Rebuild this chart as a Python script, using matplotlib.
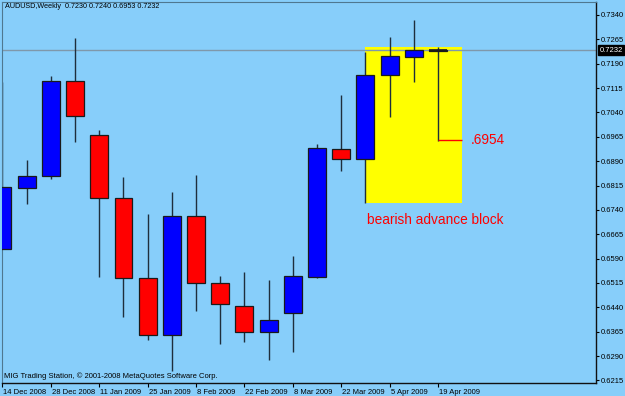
import matplotlib
matplotlib.use("Agg")
import numpy as np
import matplotlib.pyplot as plt
from matplotlib import transforms

plt.rcParams['font.family'] = ['Liberation Sans', 'DejaVu Sans']

# weekly AUDUSD candles, 14 Dec 2008 .. 19 Apr 2009
opens  = [0.6619, 0.6808, 0.6844, 0.7137, 0.6971, 0.6778, 0.6529, 0.6354, 0.6721, 0.6516,
          0.6445, 0.6363, 0.6421, 0.6533, 0.6926, 0.6896, 0.7155, 0.7211, 0.7230]
highs  = [0.7134, 0.6893, 0.7152, 0.7270, 0.6986, 0.6840, 0.6727, 0.6794, 0.6846, 0.6536,
          0.6550, 0.6525, 0.6599, 0.6942, 0.7093, 0.7227, 0.7272, 0.7325, 0.7240]
lows   = [0.6619, 0.6758, 0.6835, 0.6950, 0.6532, 0.6411, 0.6340, 0.6245, 0.6428, 0.6328,
          0.6333, 0.6277, 0.6301, 0.6529, 0.6860, 0.6760, 0.7027, 0.7134, 0.6953]
closes = [0.6810, 0.6844, 0.7137, 0.7029, 0.6778, 0.6530, 0.6354, 0.6720, 0.6514, 0.6449,
          0.6364, 0.6400, 0.6536, 0.6929, 0.6896, 0.7155, 0.7214, 0.7232, 0.7232]

date_labels = ['14 Dec 2008', '28 Dec 2008', '11 Jan 2009', '25 Jan 2009', '8 Feb 2009',
               '22 Feb 2009', '8 Mar 2009', '22 Mar 2009', '5 Apr 2009', '19 Apr 2009']
price_ticks = [0.6215, 0.6290, 0.6365, 0.6440, 0.6515, 0.6590, 0.6665, 0.6740,
               0.6815, 0.6890, 0.6965, 0.7040, 0.7115, 0.7190, 0.7265, 0.7340]

last_price = 0.7232
block_top, block_bottom = 0.7240, 0.6760
target = 0.6954

bg = '#87CEFA'
fig = plt.figure(figsize=(6.25, 3.96), dpi=100, facecolor=bg)
ax = fig.add_axes([2/625, 13/396, 594/625, 381/396], facecolor=bg)

x = np.arange(len(opens))
o = np.array(opens); c = np.array(closes)
colors = np.where(c > o, '#0000FF', '#FF0000')

# yellow block behind candles
ax.fill_between([15, 19], block_bottom, block_top, color='#FFFF00', zorder=1, lw=0)

ax.axhline(last_price, color='#7f98aa', lw=1, zorder=1.5)

ax.vlines(x, lows, highs, color='#1e2e3c', lw=1, zorder=2)
ax.bar(x, np.abs(c - o), bottom=np.minimum(o, c), width=0.74, color=colors,
       edgecolor='#1a1a1a', linewidth=0.9, zorder=3)
# doji of current week drawn as a line
ax.hlines(closes[-1], x[-1] - 0.37, x[-1] + 0.37, color='#1a1a1a', lw=1.2, zorder=4)

ax.hlines(target, 18, 19, color='#FF0000', lw=1, zorder=4)
ax.text(19.35, target, '.6954', color='#FF0000', fontsize=9.8, va='center', ha='left')
ax.text(15.05, 0.6709, 'bearish advance block', color='#FF0000', fontsize=9.8,
        va='center', ha='left')

ax.set_xlim(-0.02, 24.53)
ax.set_ylim(0.6207, 0.7380)

ax.yaxis.tick_right()
ax.set_yticks(price_ticks)
ax.set_yticklabels(['%.4f' % p for p in price_ticks], fontsize=5.5)
ax.set_xticks(range(0, 19, 2))
ax.set_xticklabels(date_labels, fontsize=5.5, ha='left')
ax.tick_params(axis='y', length=2, pad=1.5, width=0.8)
ax.tick_params(axis='x', length=3, pad=1.5, width=0.8)
offset = transforms.ScaledTranslation(1/100, 0, fig.dpi_scale_trans)
for lab in ax.get_xticklabels():
    lab.set_transform(lab.get_transform() + offset)

for s in ['left', 'top']:
    ax.spines[s].set_color('#4f7890')
for s in ['right', 'bottom']:
    ax.spines[s].set_color('#111111')
    ax.spines[s].set_linewidth(1)

trans = transforms.blended_transform_factory(ax.transAxes, ax.transData)
ax.text(1.006, last_price, '%.4f' % last_price, transform=trans, fontsize=5.5,
        color='white', va='center', ha='left',
        bbox=dict(boxstyle='square,pad=0.15', fc='black', ec='black'))

fig.text(5/625, 1 - 7/396, 'AUDUSD,Weekly  0.7230 0.7240 0.6953 0.7232',
         fontsize=5.2, va='center', ha='left')
fig.text(4/625, 1 - 376/396, 'MIG Trading Station, \u00a9 2001-2008 MetaQuotes Software Corp.',
         fontsize=5.5, va='center', ha='left')

fig.savefig('out.png', dpi=100, facecolor=bg)
